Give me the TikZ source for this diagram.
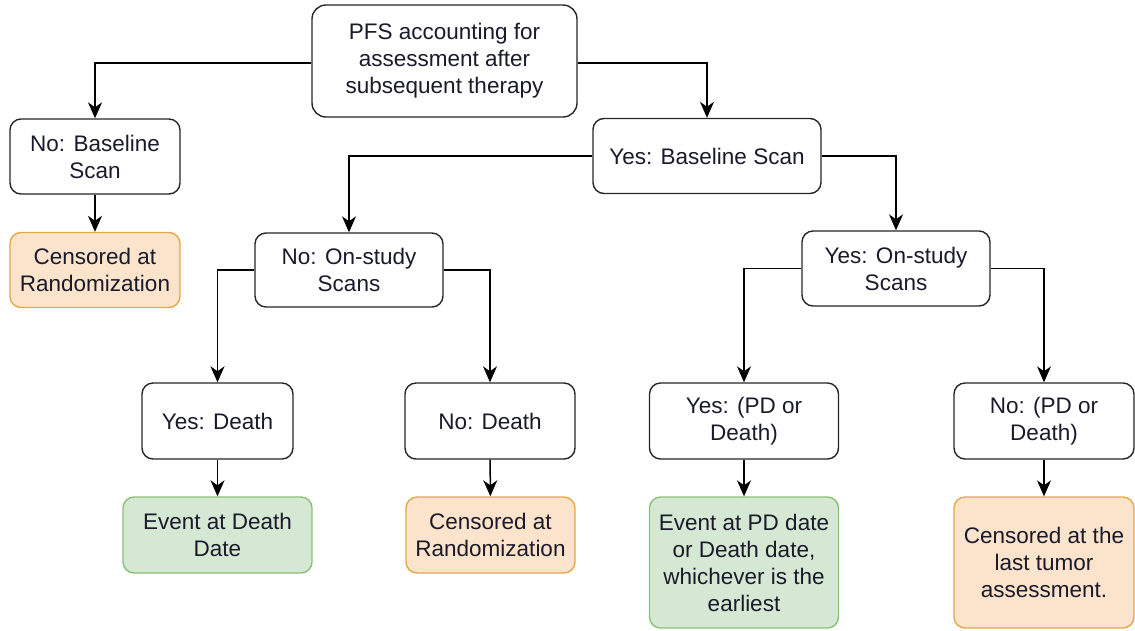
\documentclass[tikz,border=0pt]{standalone}
\usepackage{fontspec}
\setmainfont{Liberation Sans}
\usetikzlibrary{arrows.meta}
\definecolor{orfill}{HTML}{FBE3CC}
\definecolor{ordraw}{HTML}{E2A84A}
\definecolor{grfill}{HTML}{D5E8D4}
\definecolor{grdraw}{HTML}{8DBF78}
\definecolor{txt}{HTML}{1A1A2A}
\tikzset{
  box/.style={draw=black!85, line width=1.4pt, rounded corners=11pt, fill=white,
    inner sep=0pt, align=center, text=txt,
    font=\fontsize{22.5}{27}\selectfont, minimum height=75pt},
  orbox/.style={box, fill=orfill, draw=ordraw},
  grbox/.style={box, fill=grfill, draw=grdraw},
  conn/.style={draw=black, line width=1.5pt,
    -{Stealth[length=16pt, width=14pt, inset=5pt]}},
}
\begin{document}
\begin{tikzpicture}[x=1pt, y=-1pt]
\useasboundingbox (0,0) rectangle (1135,630);
% nodes
\node[box, minimum width=265pt, minimum height=112pt, rounded corners=14pt] (top) at (444.5,61) {PFS accounting for\\assessment after\\subsequent therapy};
\node[box, minimum width=170pt] (nb) at (95,156.5) {No: Baseline\\Scan};
\node[orbox, minimum width=170pt, minimum height=75pt] (cr1) at (95,270) {Censored at\\Randomization};
\node[box, minimum width=228pt] (yb) at (707,156) {Yes: Baseline Scan};
\node[box, minimum width=188pt, minimum height=74pt] (ns) at (349,270) {No: On-study\\Scans};
\node[box, minimum width=188pt] (ys) at (896,268.5) {Yes: On-study\\Scans};
\node[box, minimum width=151pt, minimum height=76pt] (yd) at (217.5,421) {Yes: Death};
\node[box, minimum width=170pt, minimum height=76pt] (nd) at (490,421) {No: Death};
\node[box, minimum width=189pt, minimum height=76pt] (yp) at (744,421) {Yes: (PD or\\Death)};
\node[box, minimum width=180pt, minimum height=76pt] (np) at (1044,421) {No: (PD or\\Death)};
\node[grbox, minimum width=189pt, minimum height=76pt] (ed) at (217.5,535) {Event at Death\\Date};
\node[orbox, minimum width=169pt, minimum height=76pt] (cr2) at (490.5,535) {Censored at\\Randomization};
\node[grbox, minimum width=189pt, minimum height=131pt] (ep) at (744,562.5) {Event at PD date\\or Death date,\\whichever is the\\earliest};
\node[orbox, minimum width=180pt, minimum height=131pt] (cl) at (1044,562.5) {Censored at the\\last tumor\\assessment.};
% connectors
\draw[conn] (top.west |- 0,63) -| (nb.north);
\draw[conn] (top.east |- 0,63) -| (yb.north);
\draw[conn] (nb) -- (cr1);
\draw[conn] (yb.west) -| (ns.north);
\draw[conn] (yb.east) -| (ys.north);
\draw[conn] (ns.west) -| (yd.north);
\draw[conn] (ns.east) -| (nd.north);
\draw[conn] (ys.west) -| (yp.north);
\draw[conn] (ys.east) -| (np.north);
\draw[conn] (yd) -- (ed);
\draw[conn] (nd) -- (cr2);
\draw[conn] (yp) -- (ep);
\draw[conn] (np) -- (cl);
\end{tikzpicture}
\end{document}
